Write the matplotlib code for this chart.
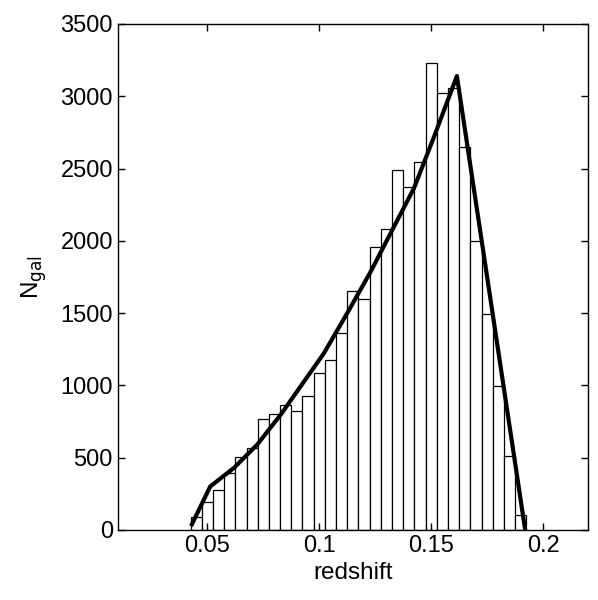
import numpy as np
import matplotlib
matplotlib.use("Agg")
import matplotlib.pyplot as plt

plt.rcParams['font.family'] = ['Liberation Sans', 'DejaVu Sans']

# histogram bin centres and counts
bin_centres = [0.045, 0.050, 0.055, 0.060, 0.065, 0.070, 0.075, 0.080, 0.085, 0.090,
               0.095, 0.100, 0.105, 0.110, 0.115, 0.120, 0.125, 0.130, 0.135, 0.140,
               0.145, 0.150, 0.155, 0.160, 0.165, 0.170, 0.175, 0.180, 0.185, 0.190]
counts = [90, 195, 272, 390, 503, 565, 766, 800, 862, 821,
          925, 1084, 1176, 1360, 1655, 1598, 1955, 2082, 2490, 2370,
          2548, 3232, 3025, 3060, 2651, 2000, 1494, 998, 514, 99]
bin_width = 0.005

# fitted model curve
model_z = [0.0427, 0.0513, 0.0618, 0.0722, 0.0827, 0.0916, 0.1021, 0.1125,
           0.1230, 0.1334, 0.1423, 0.1513, 0.1615, 0.1920]
model_n = [25, 300, 427, 588, 795, 991, 1222, 1499,
           1787, 2098, 2363, 2720, 3140, 0]

fig = plt.figure(figsize=(5.98, 6.0), dpi=100)
ax = fig.add_axes([0.197, 0.117, 0.786, 0.843])

ax.bar(bin_centres, counts, width=bin_width, color="white",
       edgecolor="black", linewidth=0.9)
ax.plot(model_z, model_n, color="black", linewidth=3.0,
        solid_capstyle="butt", solid_joinstyle="round")

ax.set_xlim(0.01, 0.22)
ax.set_ylim(0, 3500)
ax.set_xticks([0.05, 0.1, 0.15, 0.2])
ax.set_xticklabels(["0.05", "0.1", "0.15", "0.2"])
ax.set_yticks(np.arange(0, 3501, 500))
ax.tick_params(direction="in", top=True, right=True, labelsize=17,
               length=5, width=1)
for s in ax.spines.values():
    s.set_linewidth(1.0)

ax.set_xlabel("redshift", fontsize=17.5)
ax.set_ylabel(r"N$_{\mathrm{gal}}$", fontsize=17.5, labelpad=8)

fig.savefig("out.png", dpi=100)
